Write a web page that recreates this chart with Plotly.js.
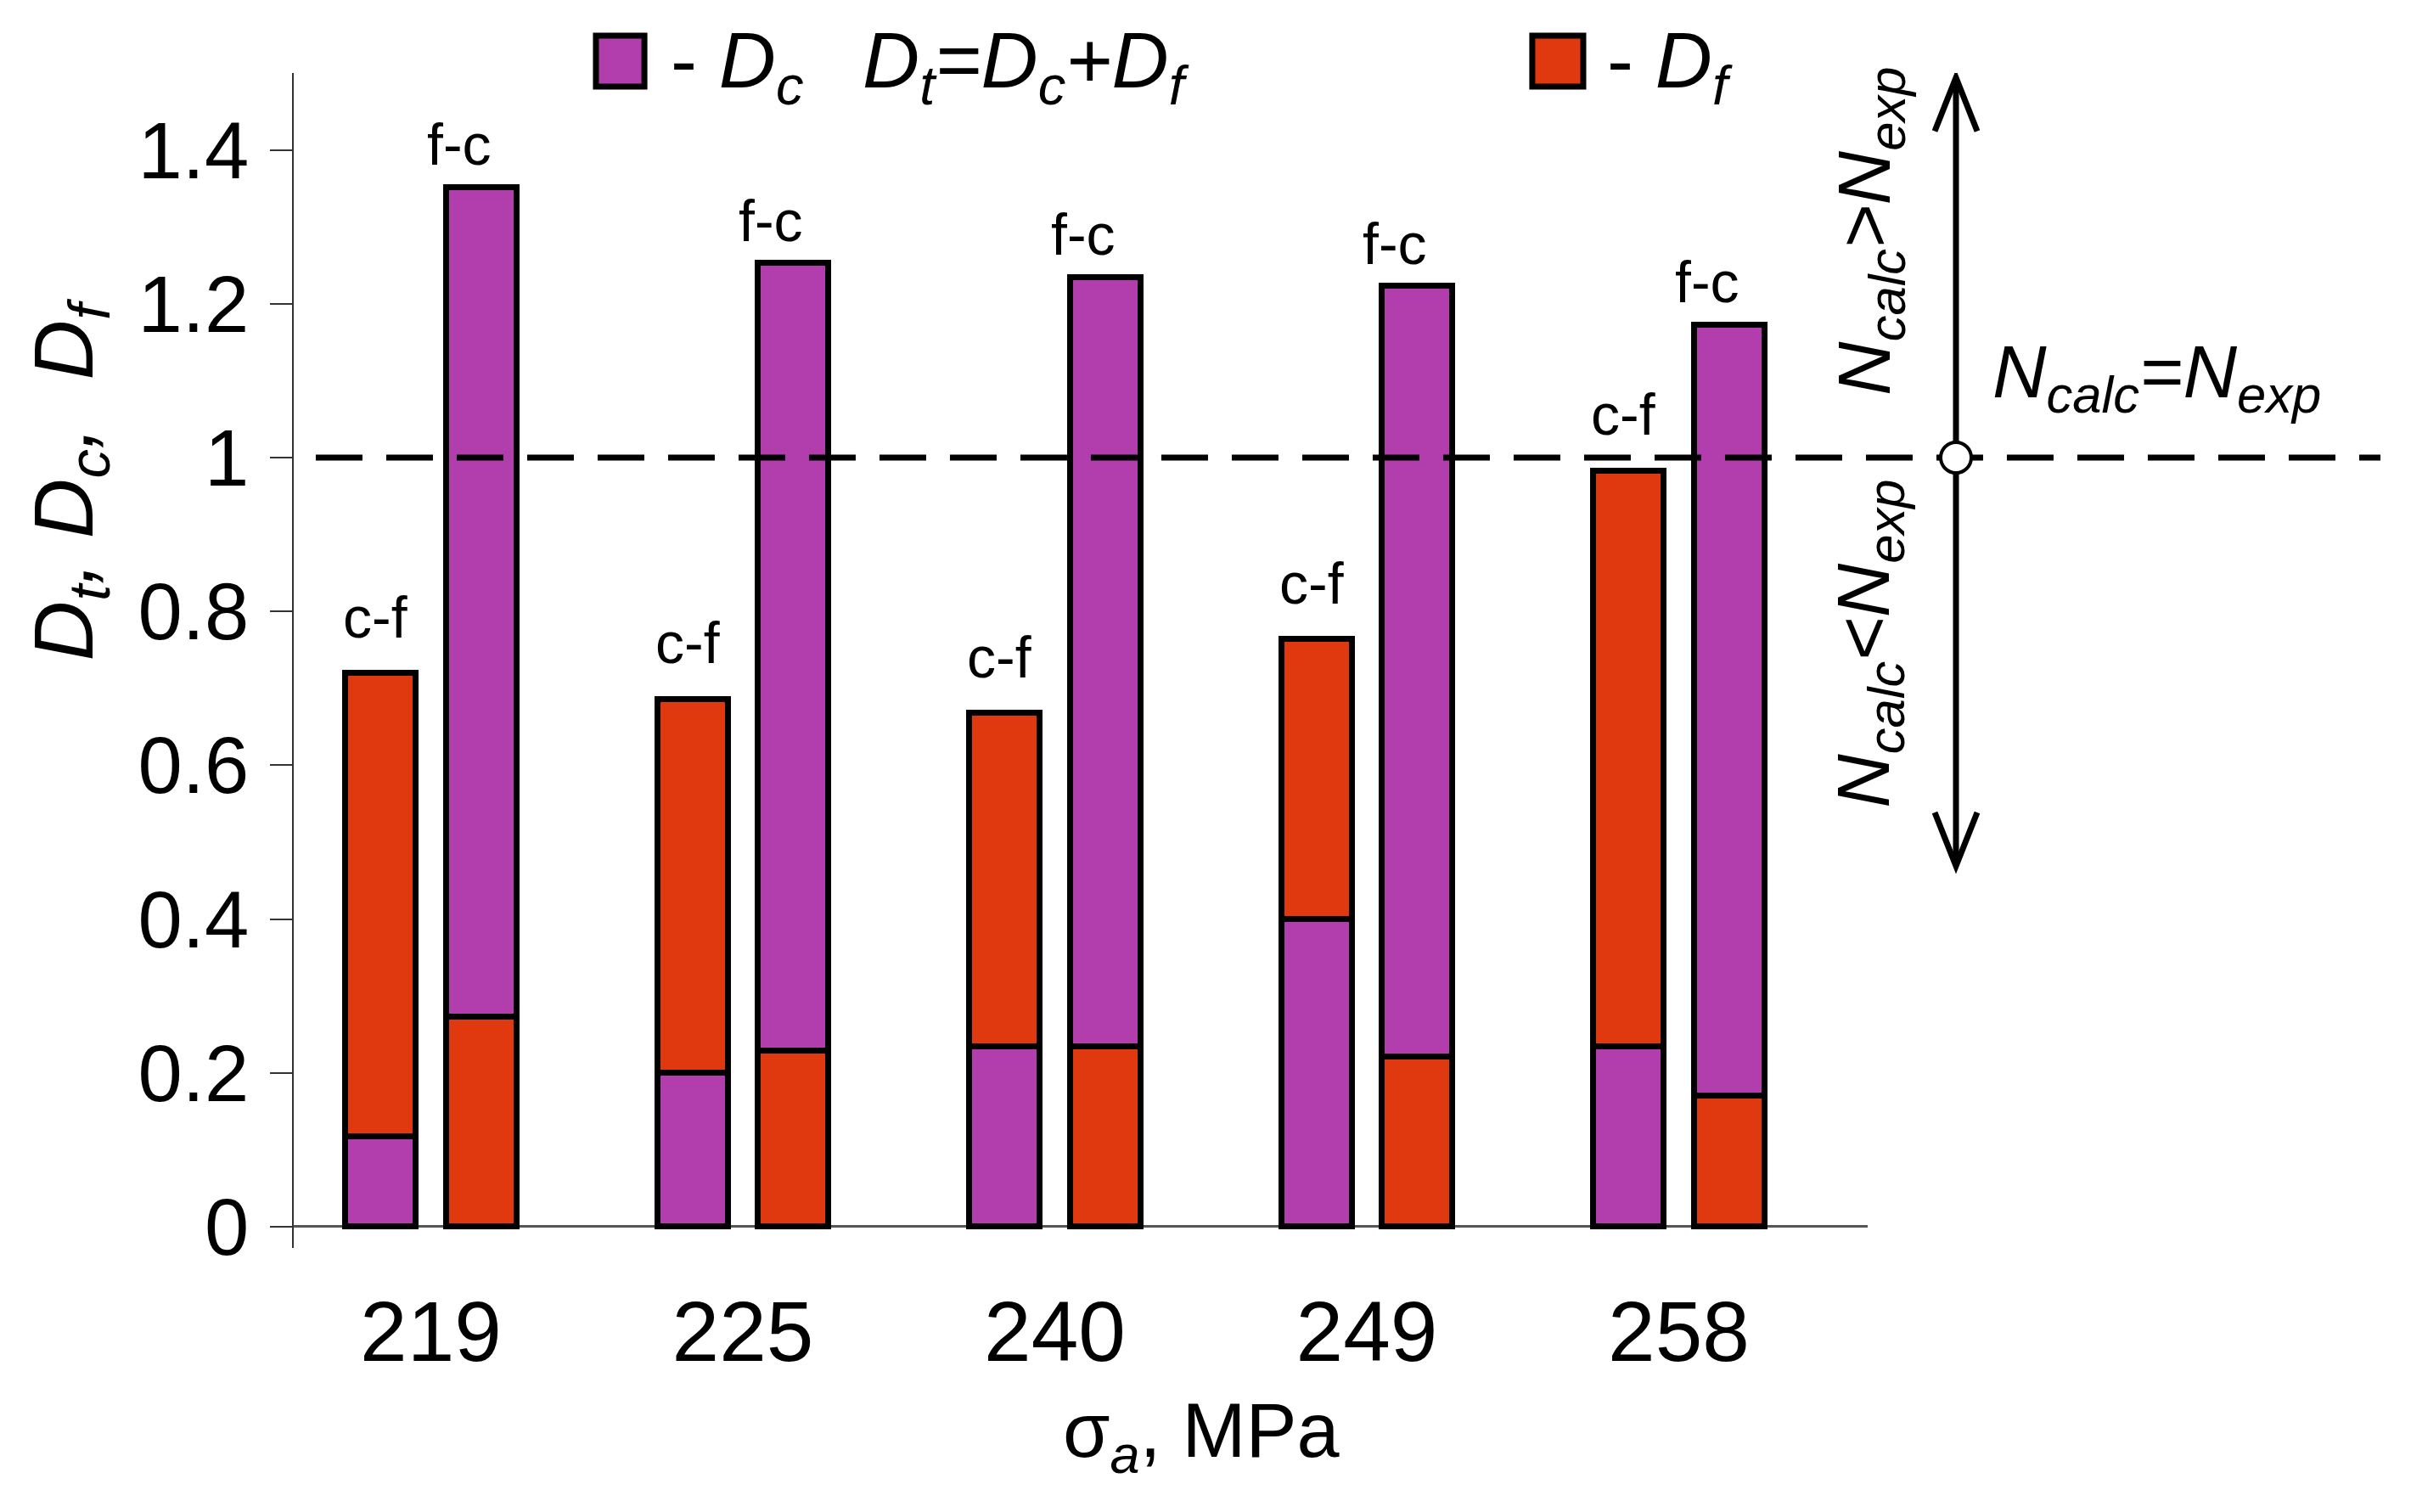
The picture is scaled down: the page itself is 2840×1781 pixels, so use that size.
<!DOCTYPE html>
<html>
<head>
<meta charset="utf-8">
<script src="https://cdn.plot.ly/plotly-3.0.1.min.js"></script>
<style>html,body{margin:0;padding:0;background:#fff;}</style>
</head>
<body>
<div id="chart" style="width:2840px;height:1781px;"></div>
<script>
// Stress amplitude categories (MPa)
const stress = ['219', '225', '240', '249', '258'];
// "c-f" sequence (left bar): Dc at bottom, Df on top
const Dc_cf = [0.117, 0.200, 0.235, 0.400, 0.235];
const Df_cf = [0.603, 0.486, 0.433, 0.364, 0.748];
// "f-c" sequence (right bar): Df at bottom, Dc on top
const Df_fc = [0.273, 0.229, 0.235, 0.221, 0.171];
const Dc_fc = [1.079, 1.024, 1.000, 1.002, 1.002];
const seqLabels = ['c-f', 'f-c'];
const yTicks = [0, 0.2, 0.4, 0.6, 0.8, 1, 1.2, 1.4];

const PURPLE = '#B23DAD';
const RED = '#E0390F';
const FONT = 'Liberation Sans, Arial, sans-serif';
const OFF = 0.161, BW = 0.226;

const idx = stress.map((s, i) => i);
const xLeft = idx.map(i => i - OFF);
const xRight = idx.map(i => i + OFF);
const outline = {color: '#000', width: 7};

const traces = [
  {type: 'bar', x: xLeft, y: Dc_cf, width: BW, marker: {color: PURPLE, line: outline}, name: 'Dc (c-f)', showlegend: false},
  {type: 'bar', x: xLeft, y: Df_cf, width: BW, marker: {color: RED, line: outline}, name: 'Df (c-f)', showlegend: false},
  {type: 'bar', x: xRight, y: Df_fc, width: BW, marker: {color: RED, line: outline}, name: 'Df (f-c)', showlegend: false},
  {type: 'bar', x: xRight, y: Dc_fc, width: BW, marker: {color: PURPLE, line: outline}, name: 'Dc (f-c)', showlegend: false}
];

const annotations = [];
idx.forEach(i => {
  annotations.push({x: xLeft[i], y: Dc_cf[i] + Df_cf[i], xref: 'x', yref: 'y', text: seqLabels[0],
    showarrow: false, yanchor: 'middle', yshift: 66, xshift: -6, font: {family: FONT, size: 68, color: '#000'}});
  annotations.push({x: xRight[i], y: Df_fc[i] + Dc_fc[i], xref: 'x', yref: 'y', text: seqLabels[1],
    showarrow: false, yanchor: 'middle', yshift: 50, xshift: -26, font: {family: FONT, size: 68, color: '#000'}});
});

const bigFont = {family: FONT, size: 88, color: '#000'};
const legFont = {family: FONT, size: 93, color: '#000'};
annotations.push(
  {xref: 'paper', yref: 'paper', x: 0.2384, y: 1.006, xanchor: 'left', yanchor: 'middle', showarrow: false,
   text: '- <i>D</i><sub><i>c</i></sub>', font: legFont},
  {xref: 'paper', yref: 'paper', x: 0.3603, y: 1.006, xanchor: 'left', yanchor: 'middle', showarrow: false,
   text: '<i>D</i><sub><i>t</i></sub><i>=D</i><sub><i>c</i></sub><i>+D</i><sub><i>f</i></sub>', font: legFont},
  {xref: 'paper', yref: 'paper', x: 0.8333, y: 1.006, xanchor: 'left', yanchor: 'middle', showarrow: false,
   text: '- <i>D</i><sub><i>f</i></sub>', font: legFont},
  {xref: 'paper', yref: 'paper', x: 1.0005, y: 0.8656, xanchor: 'center', yanchor: 'middle', showarrow: false, textangle: -90,
   text: '<i>N</i><sub><i>calc</i></sub><i>&gt;N</i><sub><i>exp</i></sub>', font: bigFont},
  {xref: 'paper', yref: 'paper', x: 1.0005, y: 0.5145, xanchor: 'center', yanchor: 'middle', showarrow: false, textangle: -90,
   text: '<i>N</i><sub><i>calc</i></sub><i>&lt;N</i><sub><i>exp</i></sub>', font: bigFont},
  {xref: 'paper', yref: 'paper', x: 1.0782, y: 0.742, xanchor: 'left', yanchor: 'middle', showarrow: false,
   text: '<i>N</i><sub><i>calc</i></sub><i>=N</i><sub><i>exp</i></sub>', font: bigFont},
  {xref: 'paper', yref: 'paper', x: 0.5766, y: -0.16, xanchor: 'center', yanchor: 'middle', showarrow: false,
   text: 'σ<sub><i>a</i></sub>, MPa', font: {family: FONT, size: 90, color: '#000'}},
  {xref: 'paper', yref: 'paper', x: -0.142, y: 0.654, xanchor: 'center', yanchor: 'middle', showarrow: false, textangle: -90,
   text: '<i>D</i><sub><i>t</i></sub><i>,&nbsp;D</i><sub><i>c</i></sub><i>,&nbsp;&nbsp;D</i><sub><i>f</i></sub>', font: {family: FONT, size: 98, color: '#000'}}
);

const AX = 1.0561;
const shapes = [
  {type: 'line', xref: 'paper', yref: 'y', x0: 0.014, x1: 1.3258, y0: 1, y1: 1,
   line: {color: '#000', width: 7, dash: '55px,28px'}, layer: 'above'},
  {type: 'line', xref: 'paper', yref: 'y', x0: AX, x1: AX, y0: 0.469, y1: 1.494,
   line: {color: '#000', width: 7}, layer: 'above'},
  {type: 'path', xref: 'paper', yref: 'y', xsizemode: 'pixel', ysizemode: 'pixel', xanchor: AX, yanchor: 1.494,
   path: 'M -25 -63 L 0 0 L 25 -63', fillcolor: 'rgba(0,0,0,0)', line: {color: '#000', width: 7}, layer: 'above'},
  {type: 'path', xref: 'paper', yref: 'y', xsizemode: 'pixel', ysizemode: 'pixel', xanchor: AX, yanchor: 0.469,
   path: 'M -25 63 L 0 0 L 25 63', fillcolor: 'rgba(0,0,0,0)', line: {color: '#000', width: 7}, layer: 'above'},
  {type: 'circle', xref: 'paper', yref: 'y', xsizemode: 'pixel', ysizemode: 'pixel', xanchor: AX, yanchor: 1,
   x0: -18, x1: 18, y0: -18, y1: 18, fillcolor: '#fff', line: {color: '#000', width: 4}, layer: 'above'},
  {type: 'rect', xref: 'paper', yref: 'paper', x0: 0.1920, x1: 0.2228, y0: 0.9884, y1: 1.0318,
   fillcolor: PURPLE, line: {color: '#000', width: 7}},
  {type: 'rect', xref: 'paper', yref: 'paper', x0: 0.7869, x1: 0.8193, y0: 0.9884, y1: 1.0318,
   fillcolor: RED, line: {color: '#000', width: 7}}
];

const layout = {
  width: 2840, height: 1781,
  margin: {l: 346, r: 640, t: 86, b: 311, pad: 0},
  paper_bgcolor: '#fff', plot_bgcolor: '#fff',
  barmode: 'stack',
  showlegend: false,
  font: {family: FONT, color: '#000'},
  xaxis: {
    range: [-0.4395, 4.6054], tickvals: idx, ticktext: stress,
    showgrid: false, zeroline: false, showline: false, ticks: '',
    tickfont: {family: FONT, size: 100, color: '#000'}, ticklabelstandoff: 32
  },
  yaxis: {
    range: [-0.0276, 1.5], tickvals: yTicks,
    showgrid: false, showline: true, linecolor: '#333', linewidth: 2,
    ticks: 'outside', ticklen: 26, tickwidth: 2, tickcolor: '#333',
    zeroline: true, zerolinecolor: '#555', zerolinewidth: 3,
    tickfont: {family: FONT, size: 94, color: '#000'}, ticklabelstandoff: 6
  },
  annotations: annotations,
  shapes: shapes
};

Plotly.newPlot('chart', traces, layout, {displayModeBar: false});
</script>
</body>
</html>
